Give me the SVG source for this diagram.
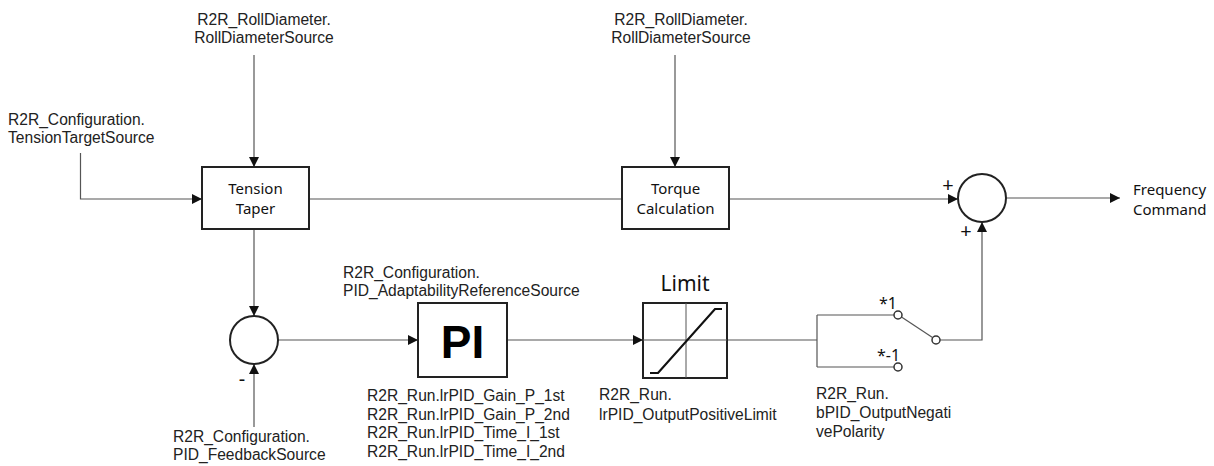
<svg xmlns="http://www.w3.org/2000/svg" width="1214" height="466" viewBox="0 0 1214 466">
<style>
.lbl{font-family:"Liberation Sans",Arial,sans-serif;font-size:15.6px;fill:#222}
.blk{font-family:"Noto Sans","Open Sans",sans-serif;font-size:15px;fill:#111}
.sign{font-family:"Noto Sans","Open Sans",sans-serif;font-size:20px;fill:#111}
.sym{font-family:"Noto Sans","Open Sans",sans-serif;font-size:16px;fill:#111}
.ttl{font-family:"Noto Sans","Open Sans",sans-serif;font-size:21px;fill:#111}
.pi{font-family:"Liberation Sans",Arial,sans-serif;font-weight:bold;font-size:46px;fill:#000}
.box{fill:#fff;stroke:#222;stroke-width:2}
.ln{fill:none;stroke:#555;stroke-width:1.2}
.sw{fill:#fff;stroke:#333;stroke-width:1.5}
</style>
<defs>
<marker id="ah" viewBox="0 0 10 10" refX="10" refY="5" markerWidth="10" markerHeight="10" markerUnits="userSpaceOnUse" orient="auto">
<path d="M0,0 L10,5 L0,10 z" fill="#111"/>
</marker>
</defs>
<rect width="1214" height="466" fill="#fff"/>
<g id="connectors">
<path class="ln" d="M254,55 V167" marker-end="url(#ah)"/>
<path class="ln" d="M80.5,153 V199 H202" marker-end="url(#ah)"/>
<path class="ln" d="M675,55 V167" marker-end="url(#ah)"/>
<path class="ln" d="M309,199 H622"/>
<path class="ln" d="M729,199 H958" marker-end="url(#ah)"/>
<path class="ln" d="M1006,198 H1120" marker-end="url(#ah)"/>
<path class="ln" d="M254,229 V316" marker-end="url(#ah)"/>
<path class="ln" d="M254,427 V364" marker-end="url(#ah)"/>
<path class="ln" d="M278,340 H418" marker-end="url(#ah)"/>
<path class="ln" d="M507,340 H643" marker-end="url(#ah)"/>
<path class="ln" d="M727,340 H817 M817,315 V367 M817,315 H894 M817,367 H894"/>
<path class="ln" d="M901.5,317 L932.5,337.5"/>
<path class="ln" d="M940,340 H982 V222" marker-end="url(#ah)"/>
</g>
<g id="label-rd1">
<text class="lbl" x="264" y="25" text-anchor="middle">R2R_RollDiameter.</text>
<text class="lbl" x="264" y="43" text-anchor="middle">RollDiameterSource</text>
</g>
<g id="label-rd2">
<text class="lbl" x="681" y="25" text-anchor="middle">R2R_RollDiameter.</text>
<text class="lbl" x="681" y="43" text-anchor="middle">RollDiameterSource</text>
</g>
<g id="label-tts">
<text class="lbl" x="8" y="125">R2R_Configuration.</text>
<text class="lbl" x="8" y="143">TensionTargetSource</text>
</g>
<g id="tension-taper">
<rect class="box" x="202" y="167" width="107" height="62"/>
<text class="blk" x="255.5" y="194" text-anchor="middle">Tension</text>
<text class="blk" x="255.5" y="214" text-anchor="middle">Taper</text>
</g>
<g id="torque-calc">
<rect class="box" x="622" y="167" width="107" height="62"/>
<text class="blk" x="675.5" y="194" text-anchor="middle">Torque</text>
<text class="blk" x="675.5" y="214" text-anchor="middle">Calculation</text>
</g>
<g id="sum-out">
<circle class="box" cx="982" cy="198" r="24"/>
<text class="sign" x="948" y="192" text-anchor="middle">+</text>
<text class="sign" x="966" y="238" text-anchor="middle">+</text>
</g>
<g id="freq-cmd">
<text class="blk" x="1133" y="195">Frequency</text>
<text class="blk" x="1133" y="215">Command</text>
</g>
<g id="sum-err">
<circle class="box" cx="254" cy="340" r="24"/>
<text class="sign" x="242" y="386" text-anchor="middle">-</text>
</g>
<g id="label-fb">
<text class="lbl" x="173" y="442">R2R_Configuration.</text>
<text class="lbl" x="173" y="460">PID_FeedbackSource</text>
</g>
<g id="pi">
<text class="lbl" x="343" y="278">R2R_Configuration.</text>
<text class="lbl" x="343" y="296">PID_AdaptabilityReferenceSource</text>
<rect class="box" x="418" y="303" width="89" height="74"/>
<text class="pi" x="462.5" y="358" text-anchor="middle">PI</text>
<text class="lbl" x="367" y="401">R2R_Run.lrPID_Gain_P_1st</text>
<text class="lbl" x="367" y="420">R2R_Run.lrPID_Gain_P_2nd</text>
<text class="lbl" x="367" y="438">R2R_Run.lrPID_Time_I_1st</text>
<text class="lbl" x="367" y="457">R2R_Run.lrPID_Time_I_2nd</text>
</g>
<g id="limit">
<text class="ttl" x="685" y="291" text-anchor="middle">Limit</text>
<rect class="box" x="643" y="303" width="84" height="75"/>
<path d="M686,303 V378 M643,340 H727" fill="none" stroke="#555" stroke-width="1"/>
<path d="M650,373 H658 L715,309 H722" fill="none" stroke="#111" stroke-width="2.2"/>
<text class="lbl" x="599" y="400">R2R_Run.</text>
<text class="lbl" x="599" y="420">lrPID_OutputPositiveLimit</text>
</g>
<g id="polarity-switch">
<circle class="sw" cx="898" cy="315" r="4"/>
<circle class="sw" cx="898" cy="367" r="4"/>
<circle class="sw" cx="936" cy="340" r="4"/>
<text class="sym" x="879" y="309">*1</text>
<text class="sym" x="877" y="361">*-1</text>
<text class="lbl" x="816" y="399">R2R_Run.</text>
<text class="lbl" x="816" y="418">bPID_OutputNegati</text>
<text class="lbl" x="816" y="437">vePolarity</text>
</g>
</svg>
